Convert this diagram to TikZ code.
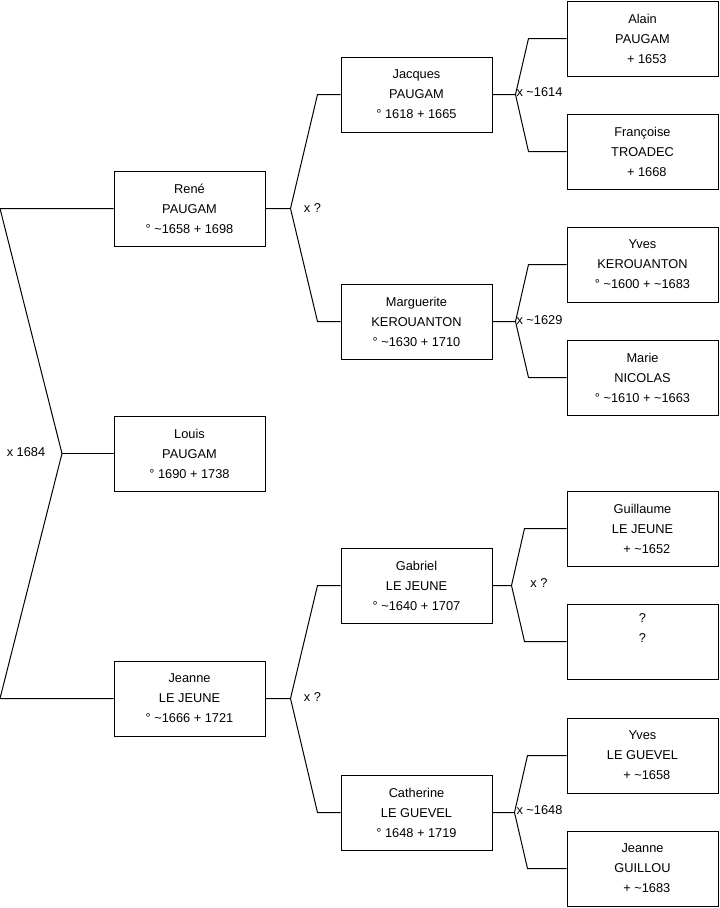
\documentclass[tikz,border=0pt]{standalone}
\usepackage{fontspec}
\setmainfont{Liberation Sans}
\usepackage{tikz}
\newcommand{\ca}{\textasciitilde}
\newcommand{\nob}{\hphantom{°}\ }

\begin{document}
\begin{tikzpicture}[x=0.75pt,y=-0.75pt,line width=0.75pt,
    person/.style={draw,minimum width=113.25pt,minimum height=56.25pt,inner sep=0pt,
        align=center,font=\fontsize{9.6}{15}\selectfont},
    wedlab/.style={inner sep=0pt,font=\fontsize{9.6}{11}\selectfont}]
    \useasboundingbox (0,0) rectangle (719,908);
    % generation 1
    \node[person] (rene) at (189.5,208.5) {René\\PAUGAM\\° \ca1658 + 1698};
    \node[person] (louis) at (189.5,453.5) {Louis\\PAUGAM\\° 1690 + 1738};
    \node[person] (jeanne) at (189.5,698.5) {Jeanne\\LE JEUNE\\° \ca1666 + 1721};
    % generation 2
    \node[person] (jacques) at (416.5,94.5) {Jacques\\PAUGAM\\° 1618 + 1665};
    \node[person] (marguerite) at (416.5,321.5) {Marguerite\\KEROUANTON\\° \ca1630 + 1710};
    \node[person] (gabriel) at (416.5,585.5) {Gabriel\\LE JEUNE\\° \ca1640 + 1707};
    \node[person] (catherine) at (416.5,812.5) {Catherine\\LE GUEVEL\\° 1648 + 1719};
    % generation 3
    \node[person] (alain) at (642.5,38.5) {Alain\\PAUGAM\\\nob+ 1653};
    \node[person] (francoise) at (642.5,151.5) {Françoise\\TROADEC\\\nob+ 1668};
    \node[person] (yvesk) at (642.5,264.5) {Yves\\KEROUANTON\\° \ca1600 + \ca1683};
    \node[person] (marie) at (642.5,377.5) {Marie\\NICOLAS\\° \ca1610 + \ca1663};
    \node[person] (guillaume) at (642.5,528.5) {Guillaume\\LE JEUNE\\\nob+ \ca1652};
    \node[person] (inconnu) at (642.5,641.5) {?\\?\\\strut};
    \node[person] (yvesg) at (642.5,755.5) {Yves\\LE GUEVEL\\\nob+ \ca1658};
    \node[person] (jeanneg) at (642.5,868.5) {Jeanne\\GUILLOU\\\nob+ \ca1683};

    % parents of louis
    \coordinate (f0) at (62,453.5);
    \draw (rene.west) -- (rene.west -| 0,0) -- (f0) -- (jeanne.west -| 0,0) -- (jeanne.west);
    \draw (f0) -- (louis.west);
    % other forks
    \foreach \c/\f/\m/\a/\b in {rene/jacques/marguerite/25/23, jeanne/gabriel/catherine/25/23,
        jacques/alain/francoise/23/38, marguerite/yvesk/marie/23/38,
        gabriel/guillaume/inconnu/19/42, catherine/yvesg/jeanneg/22/39}{
        \draw (\c.east) -- ++(\a,0) coordinate (k) -- ([xshift={-0.75pt*\b}]\f.west) -- (\f.west)
            (k) -- ([xshift={-0.75pt*\b}]\m.west) -- (\m.west);
    }

    % marriages
    \node[wedlab] (w0) at (26,452) {x 1684};
    \node[wedlab] (w1) at (312.5,208) {x ?};
    \node[wedlab] (w2) at (312.5,697) {x ?};
    \node[wedlab,anchor=west] (w3) at (516,92) {x \ca1614};
    \node[wedlab,anchor=west] (w4) at (516,320) {x \ca1629};
    \node[wedlab] (w5) at (539,583) {x ?};
    \node[wedlab,anchor=west] (w6) at (516,810) {x \ca1648};
\end{tikzpicture}
\end{document}
